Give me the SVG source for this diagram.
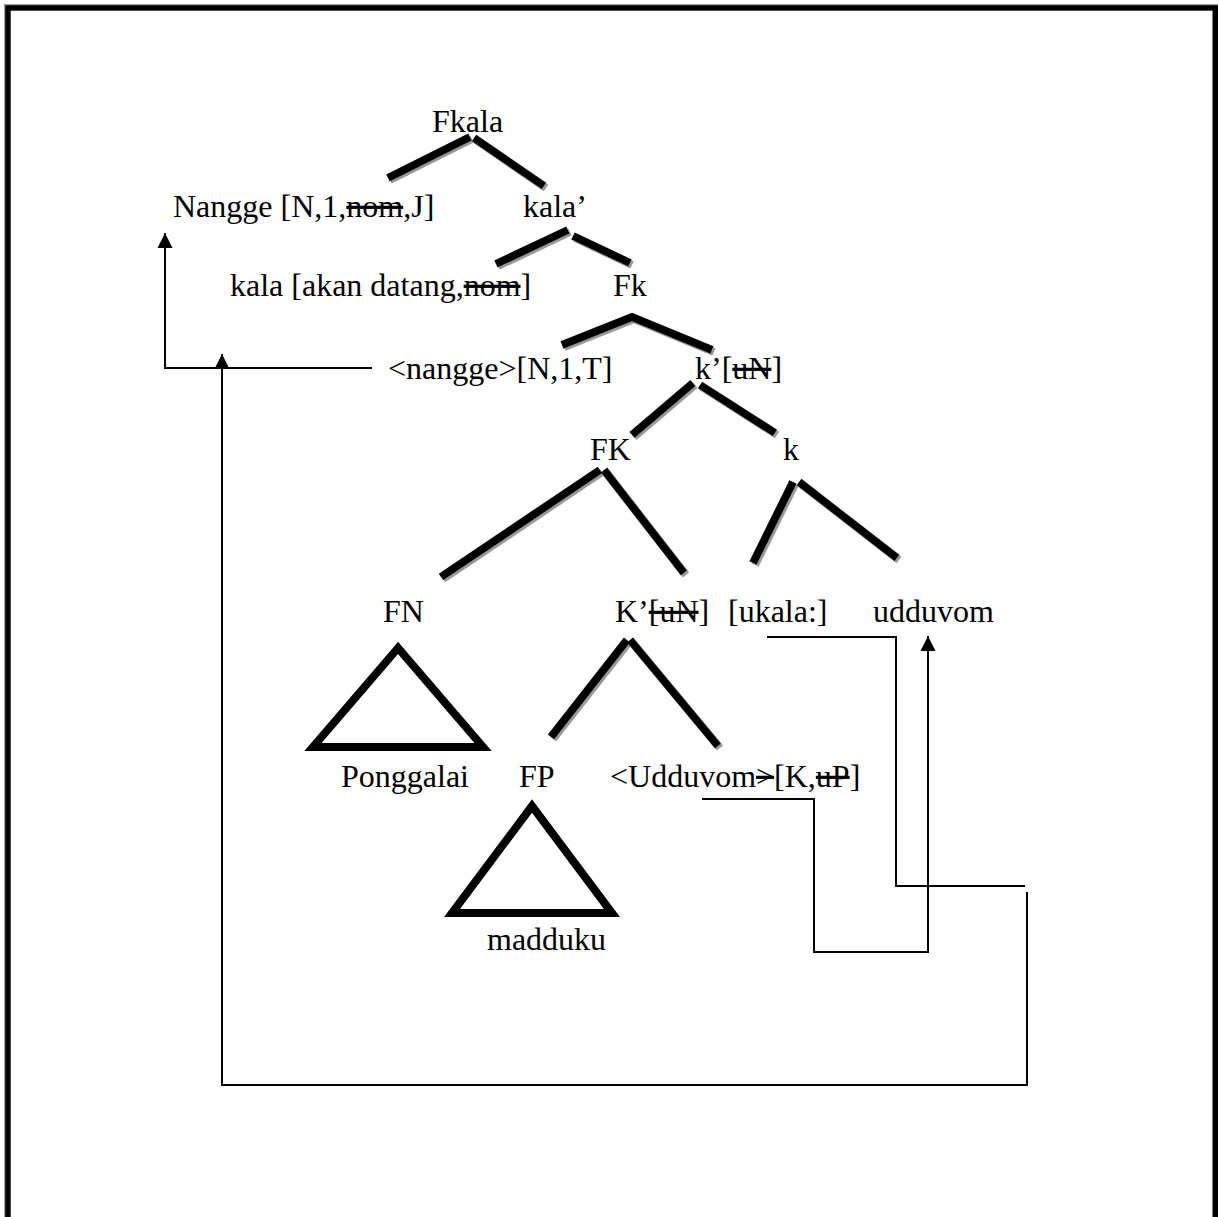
<svg xmlns="http://www.w3.org/2000/svg" width="1218" height="1217" viewBox="0 0 1218 1217">
<style>
text{font-family:"Liberation Serif","Times New Roman",serif;font-size:32px;fill:#000}
.s{text-decoration:line-through}
.br{stroke:#000;stroke-width:8;fill:none;stroke-linecap:butt}
.tri{stroke:#000;stroke-width:8;fill:none;stroke-linejoin:miter}
.ln{stroke:#000;stroke-width:2;fill:none}
</style>
<defs>
<filter id="sh" x="-20%" y="-20%" width="140%" height="140%">
<feDropShadow dx="2" dy="2" stdDeviation="0.3" flood-color="#999" flood-opacity="1"/>
</filter>
<marker id="arr" viewBox="0 0 16 16" markerUnits="userSpaceOnUse" markerWidth="15" markerHeight="16" refX="16" refY="8" orient="auto">
<path d="M0,0 L16,8 L0,16 z" fill="#000"/>
</marker>
</defs>
<rect x="0" y="0" width="1218" height="1217" fill="#fff"/>
<rect x="7" y="7" width="1208" height="1230" fill="none" stroke="#999" stroke-width="6"/>
<rect x="8" y="8" width="1207.5" height="1230" fill="none" stroke="#000" stroke-width="5.4"/>

<g id="branches" filter="url(#sh)">
<path class="br" d="M388,178 L470,137"/>
<path class="br" d="M474,138 L544,186"/>
<path class="br" d="M496,264 L568,230"/>
<path class="br" d="M573,236 L630,263"/>
<path class="br" d="M562,345 L632,317 L712,350"/>
<path class="br" d="M693,383 L632,435"/>
<path class="br" d="M700,385 L775,433"/>
<path class="br" d="M600,470 L441,577"/>
<path class="br" d="M604,470 L684,573"/>
<path class="br" d="M793,482 L753,563"/>
<path class="br" d="M799,482 L897,558"/>
<path class="br" d="M627,640 L551,737"/>
<path class="br" d="M630,640 L718,746"/>
</g>

<g id="triangle-ponggalai"><polygon class="tri" points="398,648 313,747 483,747"/></g>
<g id="triangle-madduku"><polygon class="tri" points="532,806 452,913 612,913"/></g>

<g id="connectors">
<path class="ln" d="M372,368 H165 V233" marker-end="url(#arr)"/>
<path class="ln" d="M1027,1085 H222 V354" marker-end="url(#arr)"/>
<path class="ln" d="M1027,892 V1086"/>
<path class="ln" d="M767,637 H896 V886 H1025"/>
<path class="ln" d="M702,799 H814 V952 H928 V636" marker-end="url(#arr)"/>
</g>

<g id="n-fkala"><text x="432" y="132">Fkala</text></g>
<g id="n-nangge"><text x="173" y="217">Nangge [N,1,<tspan class="s">nom</tspan>,J]</text></g>
<g id="n-kala1"><text x="523" y="217">kala’</text></g>
<g id="n-kala"><text x="230" y="296">kala [akan datang,<tspan class="s">nom</tspan>]</text></g>
<g id="n-fk"><text x="613" y="296">Fk</text></g>
<g id="n-nangge2"><text x="388" y="379">&lt;nangge&gt;[N,1,T]</text></g>
<g id="n-k1"><text x="695" y="379">k’[<tspan class="s">uN</tspan>]</text></g>
<g id="n-FK"><text x="590" y="460">FK</text></g>
<g id="n-k"><text x="783" y="460">k</text></g>
<g id="n-fn"><text x="383" y="622">FN</text></g>
<g id="n-K1"><text x="615" y="622">K’<tspan class="s">[uN</tspan>]</text></g>
<g id="n-ukala"><text x="728" y="622">[ukala:]</text></g>
<g id="n-udduvom"><text x="873" y="622">udduvom</text></g>
<g id="n-ponggalai"><text x="341" y="787">Ponggalai</text></g>
<g id="n-fp"><text x="519" y="787">FP</text></g>
<g id="n-udduvom2"><text x="610" y="787">&lt;Udduvom<tspan class="s">&gt;</tspan>[K,<tspan class="s">uP</tspan>]</text></g>
<g id="n-madduku"><text x="487" y="950">madduku</text></g>
</svg>
